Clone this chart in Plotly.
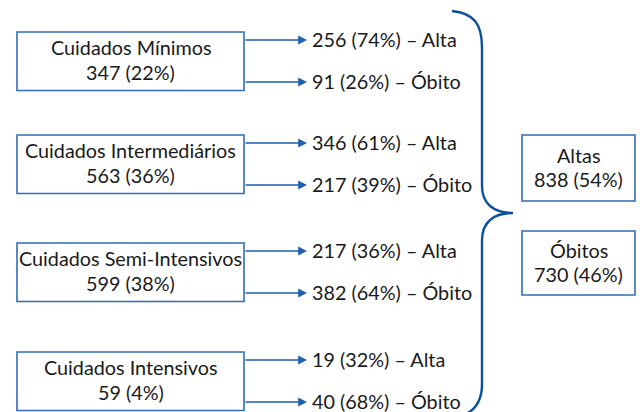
import plotly.graph_objects as go

# ---- data ----
categories = ["Cuidados Mínimos", "Cuidados Intermediários", "Cuidados Semi-Intensivos", "Cuidados Intensivos"]
totals = [347, 563, 599, 59]
total_pct = [22, 36, 38, 4]
altas = [256, 346, 217, 19]
altas_pct = [74, 61, 36, 32]
obitos = [91, 217, 382, 40]
obitos_pct = [26, 39, 64, 68]
summary_labels = ["Altas", "Óbitos"]
summary_values = [838, 730]
summary_pct = [54, 46]

# ---- layout geometry (pixel space) ----
W, H = 644, 412
box_x0, box_x1 = 17, 244
box_tops = [32, 135, 243, 352]
box_h = 58.5
arrow_dy = [8, 50]
arrow_tip = 307
label_x = 310
sum_x0, sum_x1 = 522, 635
sum_tops = [135, 231]
sum_h = [66, 64]

BOX_COLOR = "#2f6db8"
ARROW_COLOR = "#1f5fae"
BRACE_COLOR = "#0b4f9f"
TEXT_COLOR = "#1a1a1a"
FONT = "Lato"
FS = 19.8

fig = go.Figure()
fig.add_trace(go.Scatter(x=[0, W], y=[0, H], mode="markers", marker=dict(opacity=0), hoverinfo="skip", showlegend=False))

shapes = []
annotations = []

for i, cat in enumerate(categories):
    top = box_tops[i]
    bot = top + box_h
    shapes.append(dict(type="rect", xref="x", yref="y", x0=box_x0, x1=box_x1, y0=top, y1=bot,
                       line=dict(color=BOX_COLOR, width=1.6), fillcolor="white"))
    cx = (box_x0 + box_x1) / 2
    cy = (top + bot) / 2
    annotations.append(dict(x=cx, y=cy - 14, xref="x", yref="y", text=cat, showarrow=False,
                            font=dict(family=FONT, size=FS, color=TEXT_COLOR), xanchor="center", yanchor="middle"))
    annotations.append(dict(x=cx, y=cy + 11, xref="x", yref="y", text=f"{totals[i]} ({total_pct[i]}%)", showarrow=False,
                            font=dict(family=FONT, size=FS, color=TEXT_COLOR), xanchor="center", yanchor="middle"))
    outs = [(altas[i], altas_pct[i], "Alta"), (obitos[i], obitos_pct[i], "Óbito")]
    for j, (v, p, name) in enumerate(outs):
        ay = top + arrow_dy[j]
        annotations.append(dict(x=arrow_tip, y=ay, ax=box_x1, ay=ay, xref="x", yref="y", axref="x", ayref="y",
                                text="", showarrow=True, arrowhead=2, arrowsize=1.1, arrowwidth=1.6,
                                arrowcolor=ARROW_COLOR, standoff=0, startstandoff=0))
        annotations.append(dict(x=label_x, y=ay - 1.5, xref="x", yref="y", text=f"{v} ({p}%) – {name}", showarrow=False,
                                font=dict(family=FONT, size=FS, color=TEXT_COLOR), xanchor="left", yanchor="middle"))

# brace
brace = ("M 452,11 C 474,13 482,24 482,48 L 482,186 C 482,204 494,213 513,213 "
         "C 494,213 482,222 482,240 L 482,384 C 482,400 476,409 466,414")
shapes.append(dict(type="path", xref="x", yref="y", path=brace, line=dict(color=BRACE_COLOR, width=2.4)))

for k, lab in enumerate(summary_labels):
    top = sum_tops[k]
    bot = top + sum_h[k]
    shapes.append(dict(type="rect", xref="x", yref="y", x0=sum_x0, x1=sum_x1, y0=top, y1=bot,
                       line=dict(color=BOX_COLOR, width=1.6), fillcolor="white"))
    cx = (sum_x0 + sum_x1) / 2
    cy = (top + bot) / 2
    annotations.append(dict(x=cx, y=cy - 13, xref="x", yref="y", text=lab, showarrow=False,
                            font=dict(family=FONT, size=FS, color=TEXT_COLOR), xanchor="center", yanchor="middle"))
    annotations.append(dict(x=cx, y=cy + 10.5, xref="x", yref="y", text=f"{summary_values[k]} ({summary_pct[k]}%)", showarrow=False,
                            font=dict(family=FONT, size=FS, color=TEXT_COLOR), xanchor="center", yanchor="middle"))

fig.update_layout(
    width=W, height=H, margin=dict(l=0, r=0, t=0, b=0),
    paper_bgcolor="white", plot_bgcolor="white",
    xaxis=dict(range=[0, W], visible=False, fixedrange=True),
    yaxis=dict(range=[H, 0], visible=False, fixedrange=True),
    shapes=shapes, annotations=annotations, showlegend=False,
)
fig.write_html("out.html", config={"displayModeBar": False},
               post_script="document.body.style.margin='0';document.body.style.overflow='hidden';")
